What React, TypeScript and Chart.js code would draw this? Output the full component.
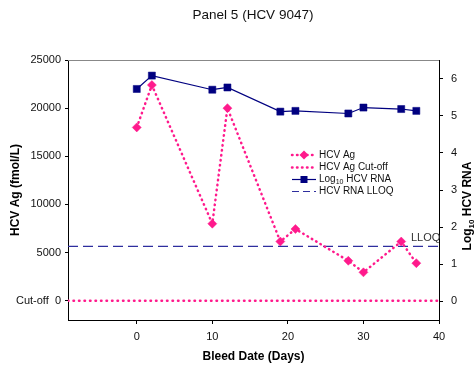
import React, { useEffect, useRef } from "react";
import { Chart, registerables } from "chart.js";

Chart.register(...registerables);

const days = [0, 2, 10, 12, 19, 21, 28, 30, 35, 37];
const hcvAg = [18000, 22400, 8000, 20000, 6150, 7450, 4150, 2950, 6150, 3900];
const logRna = [5.72, 6.08, 5.7, 5.76, 5.11, 5.13, 5.06, 5.22, 5.18, 5.13];
const cutOff = 0;
const lloq = 1.48;
const xTicks = [0, 10, 20, 30, 40];
const yTicks = [0, 5000, 10000, 15000, 20000, 25000];
const y1Ticks = [0, 1, 2, 3, 4, 5, 6];
const xRange = [-9.1, 40];

const PINK = "#FF1A8C";
const NAVY = "#000080";
const LLOQ_BLUE = "#2E2E9E";
const FONT = "'Liberation Sans', Arial, Helvetica, sans-serif";

const overlay = {
  id: "overlay",
  afterDraw(chart: any) {
    const ctx = chart.ctx;
    const a = chart.chartArea;
    ctx.save();
    // top border
    ctx.strokeStyle = "#888";
    ctx.lineWidth = 1;
    ctx.beginPath();
    ctx.moveTo(a.left, a.top + 0.5);
    ctx.lineTo(a.right, a.top + 0.5);
    ctx.stroke();

    // title
    ctx.fillStyle = "#111";
    ctx.font = `13.5px ${FONT}`;
    ctx.textAlign = "center";
    ctx.textBaseline = "middle";
    ctx.fillText("Panel 5 (HCV 9047)", 253, 15);

    // LLOQ label
    const y1 = chart.scales.y1;
    ctx.font = `11px ${FONT}`;
    ctx.textAlign = "left";
    ctx.fillStyle = "#333";
    ctx.fillText("LLOQ", 411, y1.getPixelForValue(lloq) - 8);

    // legend
    const rows = [155, 167.5, 179.5, 191.5];
    const sx0 = 292, sx1 = 316, sxm = 304, tx = 319;
    ctx.lineCap = "round";
    // row 1 & 2 dotted pink
    [0, 1].forEach((i) => {
      ctx.strokeStyle = PINK;
      ctx.lineWidth = 2.5;
      ctx.setLineDash([0.5, 4.5]);
      ctx.beginPath();
      ctx.moveTo(sx0, rows[i]);
      ctx.lineTo(sx1, rows[i]);
      ctx.stroke();
    });
    ctx.setLineDash([]);
    ctx.lineCap = "butt";
    // diamond
    ctx.fillStyle = PINK;
    ctx.beginPath();
    ctx.moveTo(sxm, rows[0] - 4.5);
    ctx.lineTo(sxm + 4.5, rows[0]);
    ctx.lineTo(sxm, rows[0] + 4.5);
    ctx.lineTo(sxm - 4.5, rows[0]);
    ctx.closePath();
    ctx.fill();
    // row 3 navy solid + square
    ctx.strokeStyle = NAVY;
    ctx.lineWidth = 1.2;
    ctx.beginPath();
    ctx.moveTo(sx0, rows[2]);
    ctx.lineTo(sx1, rows[2]);
    ctx.stroke();
    ctx.fillStyle = NAVY;
    ctx.fillRect(sxm - 3.5, rows[2] - 3.5, 7, 7);
    // row 4 dashed
    ctx.strokeStyle = LLOQ_BLUE;
    ctx.lineWidth = 1.2;
    ctx.setLineDash([7, 4]);
    ctx.beginPath();
    ctx.moveTo(sx0, rows[3]);
    ctx.lineTo(sx1, rows[3]);
    ctx.stroke();
    ctx.setLineDash([]);

    ctx.fillStyle = "#111";
    ctx.textAlign = "left";
    ctx.textBaseline = "middle";
    ctx.font = `10px ${FONT}`;
    ctx.fillText("HCV Ag", tx, rows[0]);
    ctx.fillText("HCV Ag Cut-off", tx, rows[1]);
    let x = tx;
    ctx.fillText("Log", x, rows[2]);
    x += ctx.measureText("Log").width;
    ctx.font = `7px ${FONT}`;
    ctx.fillText("10", x, rows[2] + 3);
    x += ctx.measureText("10").width;
    ctx.font = `10px ${FONT}`;
    ctx.fillText(" HCV RNA", x, rows[2]);
    ctx.fillText("HCV RNA LLOQ", tx, rows[3]);

    // right axis title (reads bottom to top)
    ctx.translate(468, 206);
    ctx.rotate(-Math.PI / 2);
    const big = `bold 12px ${FONT}`;
    const small = `bold 8px ${FONT}`;
    ctx.font = big;
    const w1 = ctx.measureText("Log").width;
    const w3 = ctx.measureText(" HCV RNA").width;
    ctx.font = small;
    const w2 = ctx.measureText("10").width;
    let px = -(w1 + w2 + w3) / 2;
    ctx.fillStyle = "#000";
    ctx.font = big;
    ctx.fillText("Log", px, 0);
    px += w1;
    ctx.font = small;
    ctx.fillText("10", px, 3.5);
    px += w2;
    ctx.font = big;
    ctx.fillText(" HCV RNA", px, 0);
    ctx.restore();
  },
};

export default function App() {
  const ref = useRef<HTMLCanvasElement>(null);

  useEffect(() => {
    if (!ref.current) return;
    Chart.defaults.font.family = FONT;
    const chart = new Chart(ref.current, {
      type: "line",
      data: {
        datasets: [
          {
            label: "HCV Ag",
            data: days.map((d, i) => ({ x: d, y: hcvAg[i] })),
            yAxisID: "y",
            borderColor: PINK,
            backgroundColor: PINK,
            borderWidth: 2.5,
            borderDash: [0.5, 4.5],
            borderCapStyle: "round",
            pointStyle: "rectRot",
            pointRadius: 4.5,
            pointBorderWidth: 0.5,
            pointBackgroundColor: PINK,
            pointBorderColor: PINK,
            tension: 0,
          },
          {
            label: "HCV Ag Cut-off",
            data: xRange.map((x) => ({ x, y: cutOff })),
            yAxisID: "y",
            borderColor: PINK,
            borderWidth: 2.5,
            borderDash: [0.5, 5],
            borderCapStyle: "round",
            pointRadius: 0,
          },
          {
            label: "Log10 HCV RNA",
            data: days.map((d, i) => ({ x: d, y: logRna[i] })),
            yAxisID: "y1",
            borderColor: NAVY,
            backgroundColor: NAVY,
            borderWidth: 1.2,
            pointStyle: "rect",
            pointRadius: 5,
            pointBorderWidth: 0.5,
            pointBackgroundColor: NAVY,
            pointBorderColor: NAVY,
          },
          {
            label: "HCV RNA LLOQ",
            data: xRange.map((x) => ({ x, y: lloq })),
            yAxisID: "y1",
            borderColor: LLOQ_BLUE,
            borderWidth: 1.2,
            borderDash: [10, 5],
            pointRadius: 0,
          },
        ],
      },
      options: {
        animation: false,
        responsive: false,
        layout: { padding: { top: 60, left: 0, right: 0, bottom: 0 } },
        plugins: { legend: { display: false }, tooltip: { enabled: false }, title: { display: false } },
        scales: {
          x: {
            type: "linear",
            min: xRange[0],
            max: xRange[1],
            afterBuildTicks: (s: any) => {
              s.ticks = xTicks.map((v) => ({ value: v }));
            },
            afterFit: (s: any) => {
              s.height = 45;
            },
            grid: { drawOnChartArea: false, drawTicks: true, tickLength: 4, color: "#000" },
            border: { color: "#000", width: 1 },
            ticks: { color: "#111", font: { size: 11 }, padding: 6, maxRotation: 0 },
            title: {
              display: true,
              text: "Bleed Date (Days)",
              color: "#000",
              font: { size: 12, weight: "bold" },
              padding: { top: 0, bottom: 1 },
            },
          },
          y: {
            type: "linear",
            position: "left",
            min: -2000,
            max: 25000,
            afterBuildTicks: (s: any) => {
              s.ticks = yTicks.map((v) => ({ value: v }));
            },
            afterFit: (s: any) => {
              s.width = 68;
            },
            grid: { drawOnChartArea: false, drawTicks: true, tickLength: 3, color: "#000" },
            border: { color: "#000", width: 1 },
            ticks: {
              color: "#111",
              font: { size: 11 },
              padding: 4,
              callback: (v: any) => (v === 0 ? "Cut-off  0" : String(v)),
            },
            title: {
              display: true,
              text: "HCV Ag (fmol/L)",
              color: "#000",
              font: { size: 12, weight: "bold" },
              padding: { top: 8, bottom: 0 },
            },
          },
          y1: {
            type: "linear",
            position: "right",
            min: -0.5,
            max: 6.5,
            afterBuildTicks: (s: any) => {
              s.ticks = y1Ticks.map((v) => ({ value: v }));
            },
            afterFit: (s: any) => {
              s.width = 37;
            },
            grid: { drawOnChartArea: false, drawTicks: true, tickLength: 4, color: "#000" },
            border: { color: "#000", width: 1 },
            ticks: { color: "#111", font: { size: 11 }, padding: 8 },
          },
        },
      },
      plugins: [overlay],
    } as any);
    return () => chart.destroy();
  }, []);

  return (
    <div style={{ position: "absolute", left: 0, top: 0, width: 476, height: 365, background: "#fff" }}>
      <canvas ref={ref} width={476} height={365} style={{ display: "block" }} />
    </div>
  );
}
